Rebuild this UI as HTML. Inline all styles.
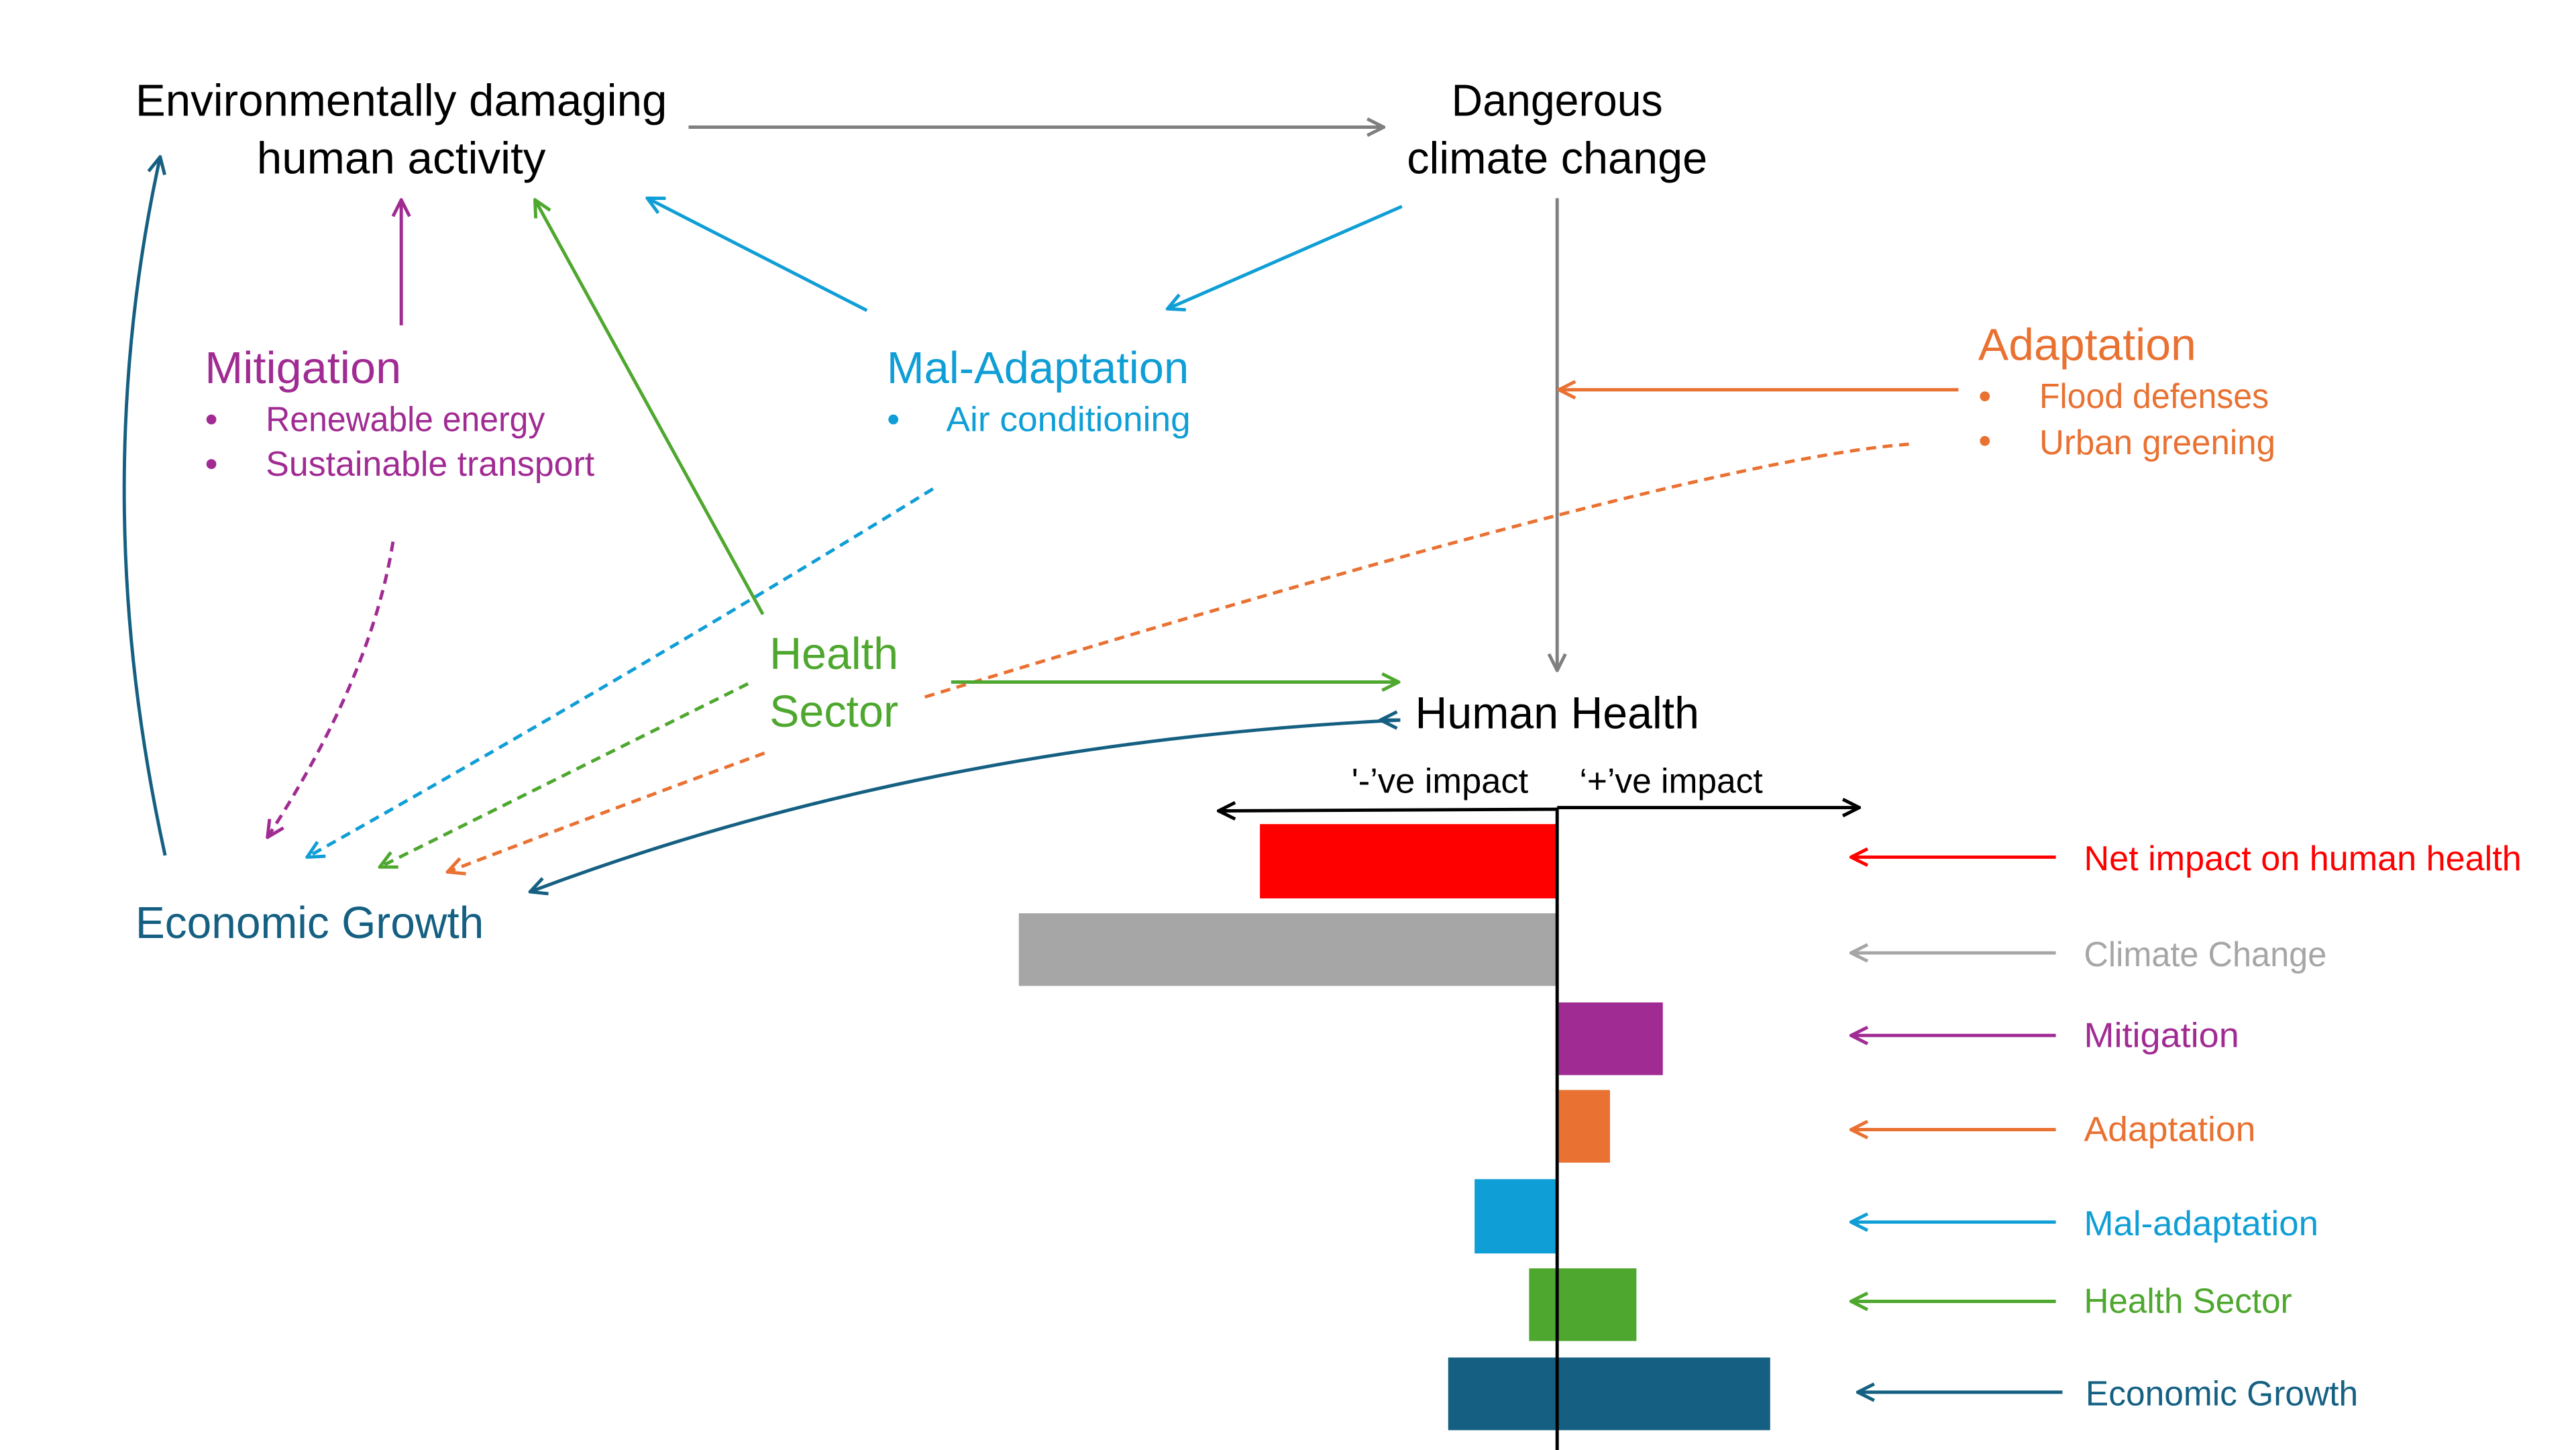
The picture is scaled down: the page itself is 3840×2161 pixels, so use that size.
<!DOCTYPE html>
<html><head><meta charset="utf-8"><style>
html,body{margin:0;padding:0;background:#fff;}
svg{display:block;}
text{font-family:"Liberation Sans",sans-serif;}
</style></head><body>
<svg width="3840" height="2161" viewBox="0 0 1560 878" preserveAspectRatio="none" xmlns="http://www.w3.org/2000/svg">
<defs>
<marker id="mk" viewBox="0 0 12 12" refX="11" refY="6" markerWidth="12" markerHeight="12" markerUnits="userSpaceOnUse" orient="auto">
<path d="M1,1 L11,6 L1,11" fill="none" stroke="context-stroke" stroke-width="2"/>
</marker>
<marker id="gy" viewBox="0 0 12 12" refX="11" refY="6" markerWidth="12" markerHeight="12" markerUnits="userSpaceOnUse" orient="auto"><path d="M1,1 L11,6 L1,11" fill="none" stroke="#7f7f7f" stroke-width="2"/></marker>
<marker id="pu" viewBox="0 0 12 12" refX="11" refY="6" markerWidth="12" markerHeight="12" markerUnits="userSpaceOnUse" orient="auto"><path d="M1,1 L11,6 L1,11" fill="none" stroke="#A02B93" stroke-width="2"/></marker>
<marker id="bl" viewBox="0 0 12 12" refX="11" refY="6" markerWidth="12" markerHeight="12" markerUnits="userSpaceOnUse" orient="auto"><path d="M1,1 L11,6 L1,11" fill="none" stroke="#0F9ED5" stroke-width="2"/></marker>
<marker id="gr" viewBox="0 0 12 12" refX="11" refY="6" markerWidth="12" markerHeight="12" markerUnits="userSpaceOnUse" orient="auto"><path d="M1,1 L11,6 L1,11" fill="none" stroke="#4EA72E" stroke-width="2"/></marker>
<marker id="or" viewBox="0 0 12 12" refX="11" refY="6" markerWidth="12" markerHeight="12" markerUnits="userSpaceOnUse" orient="auto"><path d="M1,1 L11,6 L1,11" fill="none" stroke="#E97132" stroke-width="2"/></marker>
<marker id="db" viewBox="0 0 12 12" refX="11" refY="6" markerWidth="12" markerHeight="12" markerUnits="userSpaceOnUse" orient="auto"><path d="M1,1 L11,6 L1,11" fill="none" stroke="#156082" stroke-width="2"/></marker>
<marker id="rd" viewBox="0 0 12 12" refX="11" refY="6" markerWidth="12" markerHeight="12" markerUnits="userSpaceOnUse" orient="auto"><path d="M1,1 L11,6 L1,11" fill="none" stroke="#FF0000" stroke-width="2"/></marker>
<marker id="lg" viewBox="0 0 12 12" refX="11" refY="6" markerWidth="12" markerHeight="12" markerUnits="userSpaceOnUse" orient="auto"><path d="M1,1 L11,6 L1,11" fill="none" stroke="#A6A6A6" stroke-width="2"/></marker>
<marker id="bk" viewBox="0 0 12 12" refX="11" refY="6" markerWidth="12" markerHeight="12" markerUnits="userSpaceOnUse" orient="auto"><path d="M1,1 L11,6 L1,11" fill="none" stroke="#000" stroke-width="2"/></marker>
</defs>

<!-- top labels -->
<text x="243" y="70" font-size="27" text-anchor="middle" textLength="322" lengthAdjust="spacingAndGlyphs">Environmentally damaging</text>
<text x="243" y="105" font-size="27" text-anchor="middle" textLength="175" lengthAdjust="spacingAndGlyphs">human activity</text>
<text x="943" y="70" font-size="27" text-anchor="middle" textLength="128" lengthAdjust="spacingAndGlyphs">Dangerous</text>
<text x="943" y="105" font-size="27" text-anchor="middle" textLength="182" lengthAdjust="spacingAndGlyphs">climate change</text>

<line x1="417" y1="77" x2="838" y2="77" stroke="#7f7f7f" stroke-width="2" marker-end="url(#gy)"/>
<line x1="943" y1="120" x2="943" y2="406" stroke="#7f7f7f" stroke-width="2" marker-end="url(#gy)"/>

<!-- Mitigation -->
<text x="124" y="232" font-size="27" fill="#A02B93" textLength="119" lengthAdjust="spacingAndGlyphs">Mitigation</text>
<circle cx="128" cy="254" r="3" fill="#A02B93"/>
<circle cx="128" cy="281" r="3" fill="#A02B93"/>
<text x="161" y="261" font-size="21" fill="#A02B93" textLength="169" lengthAdjust="spacingAndGlyphs">Renewable energy</text>
<text x="161" y="288" font-size="21" fill="#A02B93" textLength="199" lengthAdjust="spacingAndGlyphs">Sustainable transport</text>
<line x1="243" y1="197" x2="243" y2="121" stroke="#A02B93" stroke-width="2" marker-end="url(#pu)"/>
<path d="M238,328 Q225,410 162,507" fill="none" stroke="#A02B93" stroke-width="2" stroke-dasharray="6,4" marker-end="url(#pu)"/>

<!-- Mal-Adaptation -->
<text x="537" y="232" font-size="27" fill="#0F9ED5" textLength="183" lengthAdjust="spacingAndGlyphs">Mal-Adaptation</text>
<circle cx="541" cy="254" r="3" fill="#0F9ED5"/>
<text x="573" y="261" font-size="21" fill="#0F9ED5" textLength="148" lengthAdjust="spacingAndGlyphs">Air conditioning</text>
<line x1="525" y1="188" x2="392" y2="120" stroke="#0F9ED5" stroke-width="2" marker-end="url(#bl)"/>
<line x1="849" y1="125" x2="707" y2="187" stroke="#0F9ED5" stroke-width="2" marker-end="url(#bl)"/>
<path d="M565,296 Q380,410 186,519" fill="none" stroke="#0F9ED5" stroke-width="2" stroke-dasharray="6,4" marker-end="url(#bl)"/>

<!-- Adaptation -->
<text x="1198" y="218" font-size="27" fill="#E97132" textLength="132" lengthAdjust="spacingAndGlyphs">Adaptation</text>
<circle cx="1202" cy="240" r="3" fill="#E97132"/>
<circle cx="1202" cy="267" r="3" fill="#E97132"/>
<text x="1235" y="247" font-size="21" fill="#E97132" textLength="139" lengthAdjust="spacingAndGlyphs">Flood defenses</text>
<text x="1235" y="275" font-size="21" fill="#E97132" textLength="143" lengthAdjust="spacingAndGlyphs">Urban greening</text>
<line x1="1186" y1="236" x2="944" y2="236" stroke="#E97132" stroke-width="2" marker-end="url(#or)"/>
<path d="M1156,269 Q1030,278 557,423" fill="none" stroke="#E97132" stroke-width="2" stroke-dasharray="6,4"/>
<path d="M463,456 Q370,490 271,528" fill="none" stroke="#E97132" stroke-width="2" stroke-dasharray="6,4" marker-end="url(#or)"/>

<!-- Health sector -->
<text x="466" y="405" font-size="27" fill="#4EA72E" textLength="78" lengthAdjust="spacingAndGlyphs">Health</text>
<text x="466" y="440" font-size="27" fill="#4EA72E" textLength="78" lengthAdjust="spacingAndGlyphs">Sector</text>
<line x1="462" y1="372" x2="324" y2="121" stroke="#4EA72E" stroke-width="2" marker-end="url(#gr)"/>
<line x1="576" y1="413" x2="847" y2="413" stroke="#4EA72E" stroke-width="2" marker-end="url(#gr)"/>
<line x1="453" y1="414" x2="230" y2="525" stroke="#4EA72E" stroke-width="2" stroke-dasharray="6,4" marker-end="url(#gr)"/>

<!-- Human health -->
<text x="857" y="441" font-size="27" textLength="172" lengthAdjust="spacingAndGlyphs">Human Health</text>
<path d="M848,436 Q560,450 321,540" fill="none" stroke="#156082" stroke-width="2" marker-end="url(#db)"/>
<path d="M848,436 L836,436" fill="none" stroke="#156082" stroke-width="2" marker-end="url(#db)"/>

<!-- Economic growth -->
<text x="82" y="568" font-size="27" fill="#156082" textLength="211" lengthAdjust="spacingAndGlyphs">Economic Growth</text>
<path d="M100,518 Q52,300 97,95" fill="none" stroke="#156082" stroke-width="2" marker-end="url(#db)"/>

<!-- chart -->
<text x="872" y="480" font-size="21" text-anchor="middle" textLength="107" lengthAdjust="spacingAndGlyphs">'-’ve impact</text>
<text x="1012" y="480" font-size="21" text-anchor="middle" textLength="111" lengthAdjust="spacingAndGlyphs">‘+’ve impact</text>
<line x1="943" y1="490" x2="738" y2="491" stroke="#000" stroke-width="2" marker-end="url(#bk)"/>
<line x1="943" y1="489" x2="1126" y2="489" stroke="#000" stroke-width="2" marker-end="url(#bk)"/>

<rect x="763" y="499" width="180" height="45" fill="#FF0000"/>
<rect x="617" y="553" width="326" height="44" fill="#A6A6A6"/>
<rect x="944" y="607" width="63" height="44" fill="#A02B93"/>
<rect x="944" y="660" width="31" height="44" fill="#E97132"/>
<rect x="893" y="714" width="50" height="45" fill="#0F9ED5"/>
<rect x="926" y="768" width="65" height="44" fill="#4EA72E"/>
<rect x="877" y="822" width="195" height="44" fill="#156082"/>
<line x1="943" y1="489" x2="943" y2="878" stroke="#000" stroke-width="2"/>

<!-- legend -->
<line x1="1245" y1="519" x2="1121" y2="519" stroke="#FF0000" stroke-width="2" marker-end="url(#rd)"/>
<text x="1262" y="527" font-size="21" fill="#FF0000" textLength="265" lengthAdjust="spacingAndGlyphs">Net impact on human health</text>
<line x1="1245" y1="577" x2="1121" y2="577" stroke="#A6A6A6" stroke-width="2" marker-end="url(#lg)"/>
<text x="1262" y="585" font-size="21" fill="#A6A6A6" textLength="147" lengthAdjust="spacingAndGlyphs">Climate Change</text>
<line x1="1245" y1="627" x2="1121" y2="627" stroke="#A02B93" stroke-width="2" marker-end="url(#pu)"/>
<text x="1262" y="634" font-size="21" fill="#A02B93" textLength="94" lengthAdjust="spacingAndGlyphs">Mitigation</text>
<line x1="1245" y1="684" x2="1121" y2="684" stroke="#E97132" stroke-width="2" marker-end="url(#or)"/>
<text x="1262" y="691" font-size="21" fill="#E97132" textLength="104" lengthAdjust="spacingAndGlyphs">Adaptation</text>
<line x1="1245" y1="740" x2="1121" y2="740" stroke="#0F9ED5" stroke-width="2" marker-end="url(#bl)"/>
<text x="1262" y="748" font-size="21" fill="#0F9ED5" textLength="142" lengthAdjust="spacingAndGlyphs">Mal-adaptation</text>
<line x1="1245" y1="788" x2="1121" y2="788" stroke="#4EA72E" stroke-width="2" marker-end="url(#gr)"/>
<text x="1262" y="795" font-size="21" fill="#4EA72E" textLength="126" lengthAdjust="spacingAndGlyphs">Health Sector</text>
<line x1="1249" y1="843" x2="1125" y2="843" stroke="#156082" stroke-width="2" marker-end="url(#db)"/>
<text x="1263" y="851" font-size="21" fill="#156082" textLength="165" lengthAdjust="spacingAndGlyphs">Economic Growth</text>
</svg>
</body></html>
